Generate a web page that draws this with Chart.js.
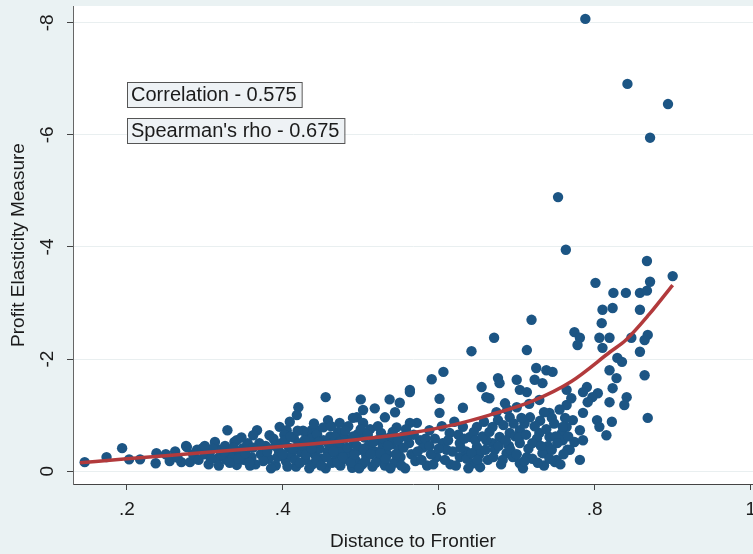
<!DOCTYPE html>
<html>
<head>
<meta charset="utf-8">
<script src="https://cdn.jsdelivr.net/npm/chart.js@4.4.1/dist/chart.umd.min.js"></script>
<style>
  html, body { margin: 0; padding: 0; background: #eaf2f3; }
  #wrap { width: 753px; height: 554px; }
</style>
</head>
<body>
<div id="wrap"><canvas id="chartElasticity"></canvas></div>
<script>
// distance to frontier (x) vs profit elasticity measure (y)
const firms = [
  // outliers / upper right
  [0.788,-8.07],[0.842,-6.91],[0.894,-6.55],[0.871,-5.95],[0.753,-4.89],[0.763,-3.95],[0.867,-3.75],
  [0.801,-3.36],[0.9,-3.48],[0.824,-3.18],[0.84,-3.18],[0.858,-3.18],[0.871,-3.38],[0.867,-3.22],
  [0.81,-2.88],[0.823,-2.91],[0.858,-2.88],[0.809,-2.64],[0.774,-2.48],[0.781,-2.38],[0.778,-2.25],
  [0.806,-2.38],[0.819,-2.38],[0.81,-2.2],[0.847,-2.38],[0.868,-2.43],[0.864,-2.34],[0.858,-2.13],
  [0.829,-2.02],[0.835,-1.95],[0.864,-1.71],[0.819,-1.8],[0.828,-1.66],[0.823,-1.48],[0.841,-1.32],
  [0.838,-1.18],[0.819,-1.23],[0.804,-1.39],[0.797,-1.32],[0.79,-1.5],[0.785,-1.41],[0.764,-1.18],
  [0.791,-1.23],[0.868,-0.95],[0.822,-0.88],[0.803,-0.91],[0.806,-0.79],[0.815,-0.64],[0.785,-1.04],
  [0.772,-0.91],[0.764,-0.79],[0.781,-0.73],[0.774,-0.52],[0.781,-0.2],[0.765,-0.38],[0.758,-0.68],
  [0.785,-0.55],[0.749,-0.16],[0.736,-0.32],[0.768,-0.38],
  // 0.55 - 0.77
  [0.719,-2.7],[0.671,-2.38],[0.642,-2.14],[0.713,-2.16],[0.606,-1.77],[0.591,-1.64],[0.563,-1.45],
  [0.601,-1.29],[0.601,-1.04],[0.631,-1.13],[0.655,-1.5],[0.676,-1.66],[0.678,-1.57],[0.7,-1.63],
  [0.704,-1.45],[0.725,-1.84],[0.738,-1.8],[0.746,-1.77],[0.723,-1.63],[0.733,-1.57],[0.713,-1.41],
  [0.665,-1.3],[0.685,-1.21],[0.661,-1.32],[0.7,-1.14],[0.729,-1.27],[0.764,-1.45],[0.742,-1.04],
  [0.717,-0.96],[0.691,-0.96],[0.676,-0.91],[0.669,-0.79],[0.649,-0.79],[0.631,-0.79],[0.614,-0.68],
  [0.588,-0.73],[0.576,-0.55],[0.572,-0.86],[0.605,-0.5],[0.597,-0.25],[0.627,-0.25],[0.649,-0.43],
  [0.644,-0.14],[0.653,-0.07],[0.669,-0.5],[0.687,-0.32],[0.704,-0.5],[0.713,-0.25],[0.704,-0.14],
  [0.733,-0.32],[0.751,-0.2],[0.729,-0.68],[0.742,-0.61],[0.759,-0.55],[0.759,-0.79],[0.691,-0.68],
  [0.704,-0.73],[0.678,-0.61],[0.661,-0.55],[0.64,-0.61],[0.627,-0.5],
  [0.565,-0.3],[0.57,-0.18],[0.58,-0.42],[0.585,-0.1],[0.59,-0.3],[0.595,-0.58],[0.61,-0.38],
  [0.615,-0.12],[0.62,-0.88],[0.625,-0.65],[0.635,-0.35],[0.638,-0.05],[0.645,-0.7],[0.652,-0.3],
  [0.658,-0.88],[0.663,-0.2],[0.672,-0.38],[0.68,-0.12],[0.683,-0.82],[0.69,-0.45],[0.695,-0.25],
  [0.698,-0.62],[0.708,-0.05],[0.71,-0.85],[0.715,-0.4],[0.72,-0.22],[0.726,-0.58],[0.73,-0.9],
  [0.735,-0.1],[0.74,-0.45],[0.745,-0.95],[0.75,-0.62],[0.755,-1.1],[0.76,-0.3],
  [0.562,-0.5],[0.568,-0.65],[0.573,-0.35],[0.578,-0.2],[0.583,-0.58],[0.588,-0.45],[0.593,-0.12],
  [0.6,-0.4],[0.604,-0.8],[0.608,-0.2],[0.612,-0.55],[0.618,-0.35],[0.622,-0.1],[0.628,-0.42],
  [0.633,-0.58],[0.636,-0.22],[0.642,-0.32],[0.647,-0.55],[0.65,-0.2],[0.656,-0.62],[0.66,-0.38],
  [0.665,-0.7],[0.67,-0.25],[0.674,-1.05],[0.677,-0.45],[0.682,-0.2],[0.686,-0.55],[0.688,-1.1],
  [0.692,-0.38],[0.696,-0.85],[0.7,-0.3],[0.703,-0.6],[0.706,-0.95],[0.71,-0.18],[0.712,-0.65],
  [0.716,-1.2],[0.72,-0.5],[0.723,-0.8],[0.727,-0.15],[0.731,-0.45],[0.735,-1.05],[0.738,-0.75],
  [0.742,-0.22],[0.745,-0.38],[0.748,-0.85],[0.752,-0.5],[0.756,-0.12],[0.762,-0.95],[0.766,-0.62],
  [0.77,-1.3],
  // 0.36 - 0.56
  [0.518,-1.12],[0.537,-1.28],[0.55,-1.22],[0.563,-1.41],[0.544,-1.05],[0.531,-0.96],[0.495,-0.96],
  [0.503,-0.86],[0.458,-0.91],[0.473,-0.86],[0.437,-0.73],[0.409,-0.88],[0.396,-0.79],[0.383,-0.64],
  [0.367,-0.73],[0.563,-0.86],[0.559,-0.61],[0.455,-1.32],[0.42,-1.14],[0.418,-1.0],[0.5,-1.28],
  [0.503,-1.09],[0.49,-0.95],[0.405,-0.73],[0.431,-0.68],[0.443,-0.73],
  [0.365,-0.12],[0.372,-0.3],[0.378,-0.45],[0.382,-0.22],[0.388,-0.58],[0.391,-0.1],[0.395,-0.36],
  [0.398,-0.5],[0.402,-0.65],[0.404,-0.18],[0.408,-0.42],[0.411,-0.28],[0.414,-0.6],[0.417,-0.08],
  [0.42,-0.5],[0.423,-0.34],[0.426,-0.72],[0.429,-0.2],[0.432,-0.45],[0.436,-0.58],[0.438,-0.12],
  [0.441,-0.3],[0.444,-0.66],[0.447,-0.4],[0.45,-0.22],[0.452,-0.55],[0.455,-0.05],[0.458,-0.35],
  [0.461,-0.62],[0.463,-0.15],[0.466,-0.48],[0.468,-0.28],[0.471,-0.7],[0.474,-0.1],[0.476,-0.4],
  [0.479,-0.58],[0.481,-0.22],[0.484,-0.8],[0.486,-0.33],[0.489,-0.06],[0.491,-0.52],[0.494,-0.18],
  [0.496,-0.66],[0.499,-0.38],[0.502,-0.12],[0.505,-0.6],[0.507,-0.28],[0.51,-0.45],[0.512,-0.75],
  [0.515,-0.08],[0.518,-0.35],[0.521,-0.55],[0.523,-0.2],[0.526,-0.68],[0.528,-0.42],[0.531,-0.1],
  [0.534,-0.3],[0.537,-0.6],[0.54,-0.48],[0.543,-0.15],[0.546,-0.78],[0.549,-0.38],[0.551,-0.25],
  [0.554,-0.62],[0.557,-0.05],
  [0.37,-0.5],[0.375,-0.18],[0.38,-0.35],[0.385,-0.05],[0.39,-0.45],[0.393,-0.25],[0.4,-0.3],
  [0.403,-0.55],[0.406,-0.08],[0.41,-0.62],[0.413,-0.4],[0.416,-0.2],[0.419,-0.72],[0.422,-0.15],
  [0.425,-0.45],[0.428,-0.55],[0.43,-0.3],[0.434,-0.05],[0.437,-0.4],[0.44,-0.85],[0.443,-0.2],
  [0.446,-0.52],[0.449,-0.1],[0.452,-0.78],[0.456,-0.25],[0.459,-0.48],[0.462,-0.8],
  [0.465,-0.35],[0.467,-0.6],[0.47,-0.15],[0.473,-0.52],[0.477,-0.25],[0.48,-0.72],[0.483,-0.42],
  [0.487,-0.15],[0.49,-0.62],[0.492,-0.3],[0.495,-0.45],[0.498,-0.05],[0.5,-0.75],[0.504,-0.4],
  [0.506,-0.18],[0.509,-0.65],[0.513,-0.3],[0.516,-0.52],[0.519,-0.15],[0.522,-0.8],[0.525,-0.32],
  [0.529,-0.58],[0.532,-0.22],[0.535,-0.45],[0.538,-0.05],[0.541,-0.7],[0.545,-0.3],[0.548,-0.55],
  [0.552,-0.1],[0.555,-0.42],[0.558,-0.75],
  // 0.14 - 0.37
  [0.146,-0.16],[0.174,-0.25],[0.194,-0.41],[0.203,-0.21],[0.217,-0.21],[0.238,-0.32],[0.237,-0.14],
  [0.276,-0.45],[0.27,-0.16],[0.29,-0.38],[0.297,-0.41],[0.281,-0.16],[0.306,-0.32],[0.319,-0.38],
  [0.338,-0.52],[0.328,-0.2],[0.341,-0.11],[0.349,-0.41],[0.362,-0.64],[0.36,-0.25],[0.329,-0.73],
  [0.313,-0.52],[0.341,-0.55],[0.277,-0.43],
  [0.25,-0.3],[0.255,-0.18],[0.262,-0.35],[0.265,-0.24],[0.285,-0.3],[0.292,-0.2],[0.3,-0.3],
  [0.305,-0.12],[0.31,-0.4],[0.316,-0.22],[0.322,-0.3],[0.326,-0.45],[0.335,-0.28],[0.345,-0.35],
  [0.35,-0.2],[0.355,-0.5],[0.358,-0.1],
  [0.3,-0.45],[0.308,-0.22],[0.318,-0.1],[0.325,-0.35],[0.332,-0.15],[0.337,-0.42],[0.343,-0.22],
  [0.347,-0.6],[0.352,-0.32],[0.357,-0.15],[0.362,-0.42]
];

// fitted curve (red)
const fitX = [0.14, 0.2, 0.3, 0.37, 0.45, 0.5, 0.56, 0.62, 0.665, 0.72, 0.77, 0.82, 0.84, 0.87, 0.9];
const fitY = [-0.15, -0.22, -0.33, -0.41, -0.5, -0.57, -0.67, -0.83, -1.0, -1.25, -1.6, -2.13, -2.34, -2.8, -3.32];

const xTicks = [0.2, 0.4, 0.6, 0.8, 1];
const yTicks = [0, -2, -4, -6, -8];
const notes = ['Correlation - 0.575', "Spearman's rho - 0.675"];

const fuente = "'Liberation Sans', Arial, sans-serif";
const tinta = '#1b1b1b';

function fmt(v) {
    const s = String(Math.round(v * 10) / 10);
    return s.replace(/^(-?)0\./, '$1.');
}

const fondo = {
    id: 'fondo',
    beforeDraw(chart) {
        const { ctx, chartArea: a } = chart;
        ctx.save();
        ctx.fillStyle = '#eaf2f3';
        ctx.fillRect(0, 0, chart.width, chart.height);
        ctx.fillStyle = '#ffffff';
        ctx.fillRect(a.left, a.top, a.right - a.left, a.bottom - a.top);
        ctx.restore();
    },
    afterDraw(chart) {
        const { ctx, chartArea: a } = chart;
        const xs = chart.scales.x;
        const ys = chart.scales.y;
        ctx.save();
        ctx.font = '19px ' + fuente;
        ctx.fillStyle = tinta;
        // x tick labels (drawn here so the last one may run to the edge)
        ctx.textAlign = 'center';
        ctx.textBaseline = 'top';
        xTicks.forEach((v) => {
            ctx.fillText(fmt(v), xs.getPixelForValue(v), a.bottom + 16);
        });
        // rotated y tick labels
        ctx.textBaseline = 'middle';
        yTicks.forEach((v) => {
            ctx.save();
            ctx.translate(a.left - 25, ys.getPixelForValue(v));
            ctx.rotate(-Math.PI / 2);
            ctx.fillText(fmt(v), 0, 0);
            ctx.restore();
        });
        // text boxes
        ctx.font = '20px ' + fuente;
        ctx.textAlign = 'left';
        notes.forEach((t, i) => {
            const x = a.left + 54;
            const y = a.top + 76 + i * 36;
            const w = ctx.measureText(t).width + 9;
            ctx.fillStyle = '#eef2f5';
            ctx.fillRect(x, y, w, 25);
            ctx.strokeStyle = '#555';
            ctx.lineWidth = 1;
            ctx.strokeRect(x + 0.5, y + 0.5, w, 25);
            ctx.fillStyle = tinta;
            ctx.fillText(t, x + 4, y + 13.5);
        });
        ctx.restore();
    }
};

const data = {
    datasets: [{
        label: 'Fit',
        data: fitX.map((x, i) => ({ x: x, y: fitY[i] })),
        showLine: true,
        borderColor: '#b23a3c',
        borderWidth: 3.5,
        pointRadius: 0,
        cubicInterpolationMode: 'monotone',
        order: 0
    }, {
        label: 'Firms',
        data: firms.map((p) => ({ x: p[0], y: p[1] })),
        backgroundColor: '#1c5584',
        borderColor: '#1c5584',
        borderWidth: 0,
        pointRadius: 5.2,
        order: 1
    }]
};

const config = {
    type: 'scatter',
    data: data,
    options: {
        responsive: true,
        maintainAspectRatio: false,
        animation: false,
        layout: { autoPadding: false, padding: { top: 6, right: 0, left: 0, bottom: 0 } },
        plugins: { legend: { display: false }, tooltip: { enabled: false } },
        scales: {
            x: {
                type: 'linear',
                min: 0.131,
                max: 1.003,
                afterBuildTicks: (s) => { s.ticks = xTicks.map((v) => ({ value: v })); },
                afterFit: (s) => { s.height = 70; s.paddingRight = 0; s.paddingLeft = 0; },
                ticks: { display: false },
                grid: { drawOnChartArea: false, tickLength: 6, tickColor: '#444' },
                border: { color: '#444', width: 1 },
                title: { display: true, text: 'Distance to Frontier', font: { family: fuente, size: 19 }, color: tinta, padding: { top: 0, bottom: 1 } }
            },
            y: {
                type: 'linear',
                reverse: true,
                min: -8.3,
                max: 0.23,
                afterBuildTicks: (s) => { s.ticks = yTicks.map((v) => ({ value: v })); },
                afterFit: (s) => { s.width = 73; s.paddingTop = 0; s.paddingBottom = 0; },
                ticks: { color: 'transparent', font: { family: fuente, size: 19 } },
                grid: { color: '#e9eff0', tickLength: 6, tickColor: '#444' },
                border: { color: '#666', width: 1 },
                title: { display: true, text: 'Profit Elasticity Measure', font: { family: fuente, size: 19 }, color: tinta, padding: { top: 7, bottom: 0 } }
            }
        }
    },
    plugins: [fondo]
};

const grafico = new Chart(document.getElementById('chartElasticity'), config);
</script>
</body>
</html>
